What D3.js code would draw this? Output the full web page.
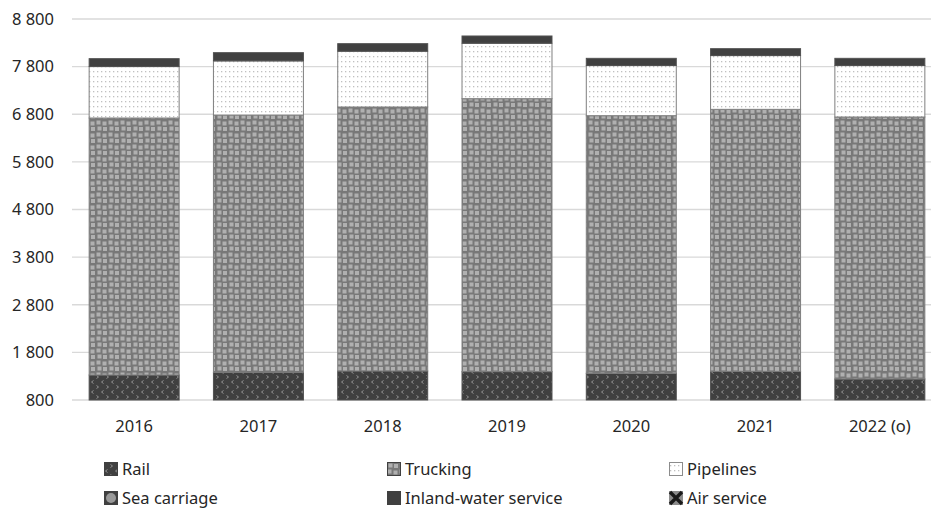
<!DOCTYPE html>
<html><head><meta charset="utf-8">
<script src="https://cdn.jsdelivr.net/npm/d3@7/dist/d3.min.js"></script>
<style>body{margin:0;background:#fff}svg{display:block}text{font-family:"Noto Sans",sans-serif;fill:#262626}</style>
</head><body><svg id="c" width="931" height="509"></svg>
<script>
const years = ["2016","2017","2018","2019","2020","2021","2022 (o)"];
const seriesNames = ["Rail","Trucking","Pipelines","Sea carriage","Inland-water service","Air service"];
const rail      = [1325,1381,1409,1395,1360,1402,1241];
const trucking  = [5396,5403,5543,5732,5410,5501,5501];
const pipelines = [1078,1134,1169,1162,1050,1127,1078];
const sea       = [4,4,4,4,4,4,4];
const inland    = [164,171,157,150,150,143,150];
const air       = [1,1,1,1,1,1,1];
const yTicks = [800,1800,2800,3800,4800,5800,6800,7800,8800];

const svg = d3.select("#c");
const defs = svg.append("defs");
// Rail pattern
let p = defs.append("pattern").attr("id","p0").attr("patternUnits","userSpaceOnUse").attr("width",10).attr("height",10);
p.append("rect").attr("width",10).attr("height",10).attr("fill","#404040");
p.append("path").attr("d","M3.5,0.5 L1.5,2 L3.5,3.5 M6.5,5.5 L8.5,7 L6.5,8.5").attr("stroke","#9a9a9a").attr("fill","none").attr("stroke-width",0.9);
// Trucking pattern
p = defs.append("pattern").attr("id","p1").attr("patternUnits","userSpaceOnUse").attr("width",12).attr("height",12);
p.append("rect").attr("width",12).attr("height",12).attr("fill","#787878");
[[0.5,0.5],[6.5,1.5],[1.5,6.5],[7,7]].forEach(([a,b])=>p.append("rect").attr("x",a).attr("y",b).attr("width",4).attr("height",4).attr("fill","#b0b0b0"));
// Pipelines pattern
p = defs.append("pattern").attr("id","p2").attr("patternUnits","userSpaceOnUse").attr("width",4).attr("height",5);
p.append("rect").attr("width",4).attr("height",5).attr("fill","#fff");
p.append("rect").attr("x",1).attr("y",1).attr("width",1.3).attr("height",1.3).attr("fill","#c0c0c0");
// Sea pattern
p = defs.append("pattern").attr("id","p3").attr("patternUnits","userSpaceOnUse").attr("width",14).attr("height",14);
p.append("rect").attr("width",14).attr("height",14).attr("fill","#404040");
p.append("circle").attr("cx",7).attr("cy",7).attr("r",5).attr("fill","#8c8c8c");

const fills = ["url(#p0)","url(#p1)","url(#p2)","url(#p3)","#404040","#8c8c8c"];
const data = years.map((y,i)=>({year:y, s0:rail[i], s1:trucking[i], s2:pipelines[i], s3:sea[i], s4:inland[i], s5:air[i]}));
const keys = ["s0","s1","s2","s3","s4","s5"];
const stacked = d3.stack().keys(keys)(data);

const x = d3.scaleBand().domain(years).range([72,942]).paddingInner(0.276).paddingOuter(0.138);
const y = d3.scaleLinear().domain([800,8800]).range([400,19]);

// gridlines
svg.append("g").selectAll("line").data(yTicks).join("line")
  .attr("x1",72).attr("x2",931).attr("y1",d=>y(d)).attr("y2",d=>y(d))
  .attr("stroke","#d9d9d9").attr("stroke-width",1.3);

// y labels
svg.append("g").selectAll("text").data(yTicks).join("text")
  .attr("x",54).attr("y",d=>y(d)).attr("dy","0.35em").attr("text-anchor","end")
  .attr("font-size",16.5).text(d=>d3.format(",")(d).replace(","," "));

// bars
stacked.forEach((s,si)=>{
  svg.append("g").selectAll("rect").data(s).join("rect")
    .attr("x",d=>x(d.data.year)).attr("width",x.bandwidth())
    .attr("y",d=>y(Math.max(d[1],800))).attr("height",d=>Math.max(0,y(Math.max(d[0],800))-y(Math.max(d[1],800))))
    .attr("fill",fills[si]).attr("stroke",si===0||si===4?"#505050":"#7f7f7f").attr("stroke-width",si===3||si===5?0:1);
});

// x labels
svg.append("g").selectAll("text").data(years).join("text")
  .attr("x",d=>x(d)+x.bandwidth()/2).attr("y",426).attr("dy","0.35em").attr("text-anchor","middle")
  .attr("font-size",16.5).text(d=>d);

// legend
const legPos = [[104,469],[387,469],[669,469],[104,498],[387,498],[669,498]];
const lg = svg.append("g").selectAll("g").data(seriesNames).join("g")
  .attr("transform",(d,i)=>`translate(${legPos[i][0]},${legPos[i][1]})`);
lg.each(function(d,i){
  const g = d3.select(this);
  if(i===5){
    g.append("rect").attr("x",0).attr("y",-7).attr("width",14).attr("height",14).attr("fill","#8c8c8c");
    g.append("path").attr("d","M1,-6 L13,6 M13,-6 L1,6").attr("stroke","#1a1a1a").attr("stroke-width",3.4);
  } else if(i===3){
    g.append("rect").attr("x",0).attr("y",-7).attr("width",14).attr("height",14).attr("fill","#404040");
    g.append("circle").attr("cx",7).attr("cy",0).attr("r",5).attr("fill","#999");
  } else {
    g.append("rect").attr("x",0.5).attr("y",-6.5).attr("width",13).attr("height",13).attr("fill",fills[i]).attr("stroke",i===2?"#8c8c8c":"#404040").attr("stroke-width",1);
  }
  g.append("text").attr("x",18).attr("y",0).attr("dy","0.35em").attr("font-size",16.5).text(d);
});
</script></body></html>
